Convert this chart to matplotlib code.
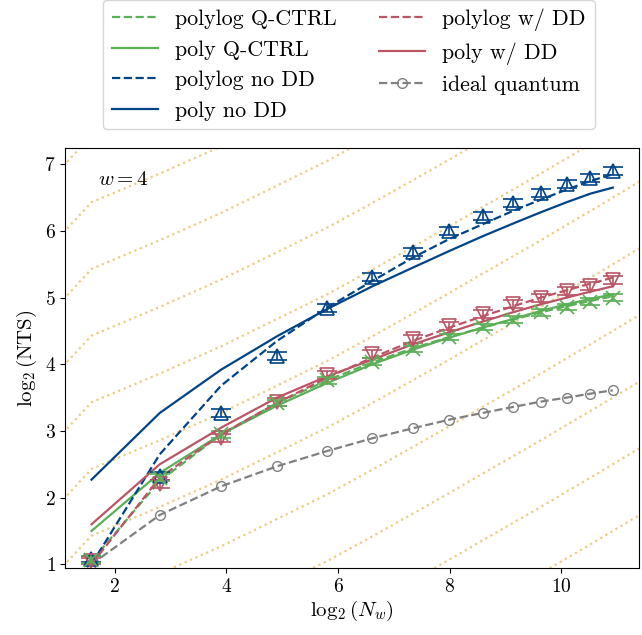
import numpy as np
import matplotlib
matplotlib.use("Agg")
import matplotlib.pyplot as plt

plt.rcParams["font.family"] = "cmr10"
plt.rcParams["mathtext.fontset"] = "cm"
plt.rcParams["axes.formatter.use_mathtext"] = True

# number of weight-<=4 terms for n = 2..15 qubits
N_w = [3, 7, 15, 30, 56, 98, 162, 255, 385, 561, 793, 1092, 1470, 1940]
x = np.log2(N_w)

# no DD (blue)
nodd_pts = [1.08, 2.33, 3.27, 4.13, 4.84, 5.31, 5.69, 6.00, 6.22, 6.42, 6.57, 6.70, 6.80, 6.90]
nodd_err = [0.05, 0.06, 0.06, 0.06, 0.06, 0.06, 0.06, 0.06, 0.06, 0.06, 0.06, 0.06, 0.06, 0.06]
nodd_polylog = [1.00, 2.65, 3.68, 4.35, 4.85, 5.25, 5.60, 5.88, 6.10, 6.30, 6.47, 6.62, 6.75, 6.85]
nodd_poly = [2.27, 3.27, 3.92, 4.42, 4.83, 5.17, 5.45, 5.70, 5.92, 6.11, 6.28, 6.43, 6.56, 6.65]

# w/ DD (red)
dd_pts = [1.05, 2.20, 2.90, 3.43, 3.84, 4.15, 4.38, 4.57, 4.75, 4.90, 5.00, 5.10, 5.18, 5.27]
dd_err = [0.05, 0.06, 0.06, 0.06, 0.06, 0.06, 0.06, 0.06, 0.06, 0.06, 0.06, 0.06, 0.06, 0.06]
dd_polylog = [1.00, 2.30, 2.95, 3.42, 3.80, 4.10, 4.35, 4.55, 4.72, 4.87, 5.00, 5.11, 5.21, 5.30]
dd_poly = [1.60, 2.50, 3.05, 3.50, 3.82, 4.07, 4.30, 4.48, 4.64, 4.78, 4.90, 5.00, 5.09, 5.17]

# Q-CTRL (green)
qc_pts = [1.07, 2.30, 2.95, 3.42, 3.76, 4.04, 4.23, 4.41, 4.56, 4.67, 4.78, 4.86, 4.94, 5.00]
qc_err = [0.05, 0.05, 0.05, 0.05, 0.05, 0.05, 0.05, 0.05, 0.05, 0.05, 0.05, 0.05, 0.05, 0.05]
qc_polylog = [1.05, 2.25, 2.95, 3.42, 3.76, 4.03, 4.24, 4.41, 4.55, 4.67, 4.78, 4.87, 4.95, 5.02]
qc_poly = [1.50, 2.37, 2.95, 3.38, 3.72, 4.00, 4.22, 4.40, 4.55, 4.68, 4.80, 4.90, 4.98, 5.05]

# ideal quantum (gray)
ideal = [1.00, 1.74, 2.17, 2.47, 2.70, 2.89, 3.04, 3.17, 3.27, 3.36, 3.44, 3.50, 3.56, 3.61]

# background guide curves (n = 1..17), shifted by integer offsets
guide_N = [1] + N_w + [2516, 3213]
guide_shape = [0.0, 1.43, 1.86, 2.27, 2.68, 3.05, 3.42, 3.76, 4.07, 4.36,
               4.62, 4.86, 5.09, 5.30, 5.50, 5.69, 5.86]
guide_offsets = [-4, -3, -2, -1, 0, 1, 2, 3, 4, 5, 6]

blue = "#004488"
red = "#BB5566"
green = "#5BAF57"
gray = "#808080"
yellow = "#DDAA33"

fig = plt.figure(figsize=(6.42, 6.35), dpi=100)
ax = fig.add_axes([0.1019, 0.105, 0.8934, 0.6615])

gx = np.log2(guide_N)
for k in guide_offsets:
    ax.plot(gx, np.array(guide_shape) + k, ls=":", color=yellow, lw=1.6, alpha=0.6, zorder=1)

# fit lines
ax.plot(x, qc_polylog, "--", color=green, lw=1.6, label="polylog Q-CTRL")
ax.plot(x, qc_poly, "-", color=green, lw=1.6, label="poly Q-CTRL")
ax.plot(x, nodd_polylog, "--", color=blue, lw=1.6, label="polylog no DD")
ax.plot(x, nodd_poly, "-", color=blue, lw=1.6, label="poly no DD")
ax.plot(x, dd_polylog, "--", color=red, lw=1.6, label="polylog w/ DD")
ax.plot(x, dd_poly, "-", color=red, lw=1.6, label="poly w/ DD")
ax.plot(x, ideal, "--", color=gray, lw=1.6, marker="o", ms=7, mfc="none", label="ideal quantum")

# measured points with error bars
ax.errorbar(x, nodd_pts, yerr=nodd_err, fmt="^", color=blue, mfc="none", ms=10,
            capsize=7, elinewidth=1.2, mew=1.2)
ax.errorbar(x, dd_pts, yerr=dd_err, fmt="v", color=red, mfc="none", ms=10,
            capsize=7, elinewidth=1.2, mew=1.2)
ax.errorbar(x, qc_pts, yerr=qc_err, fmt="x", color=green, ms=10,
            capsize=7, elinewidth=1.2, mew=1.2)

ax.set_xlim(1.118, 11.39)
ax.set_ylim(0.94, 7.24)
ax.set_xticks([2, 4, 6, 8, 10])
ax.set_yticks([1, 2, 3, 4, 5, 6, 7])
ax.tick_params(labelsize=14)
ax.set_xlabel(r"$\log_2(N_w)$", fontsize=15, labelpad=2)
ax.set_ylabel(r"$\log_2(\mathrm{NTS})$", fontsize=15)

ax.text(0.057, 0.925, r"$w=$4", transform=ax.transAxes, fontsize=15, va="center")

ax.legend(loc="lower center", bbox_to_anchor=(0.494, 1.045), ncol=2, fontsize=15.8,
          frameon=True, fancybox=True, handlelength=2.1, columnspacing=1.9,
          borderaxespad=0.0)

fig.savefig("out.png", dpi=100)
